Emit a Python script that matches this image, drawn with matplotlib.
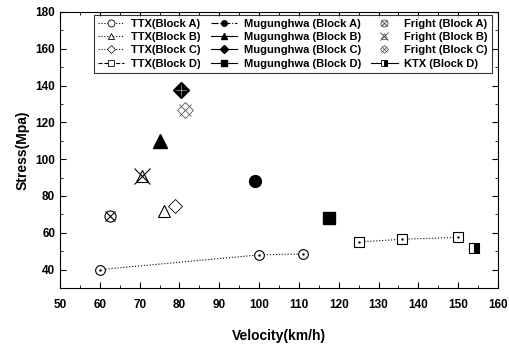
import matplotlib.pyplot as plt
from matplotlib.lines import Line2D
from matplotlib.ticker import MultipleLocator

plt.rcParams['font.family'] = ['Liberation Sans', 'DejaVu Sans']
plt.rcParams['font.weight'] = 'bold'

# values (velocity km/h, stress MPa)
ttx_a_v = [60, 100, 111]
ttx_a_s = [40, 48, 48.5]
ttx_b_v = [76]
ttx_b_s = [72]
ttx_c_v = [79]
ttx_c_s = [74.5]
ttx_d_v = [125, 136, 150]
ttx_d_s = [55, 56.5, 57.5]

mug_a_v = [99]
mug_a_s = [88]
mug_b_v = [75]
mug_b_s = [110]
mug_c_v = [80.5]
mug_c_s = [137.5]
mug_d_v = [117.5]
mug_d_s = [68]

fr_a_v = [62.5]
fr_a_s = [69]
fr_b_v = [70.5]
fr_b_s = [91]
fr_c_v = [81.5]
fr_c_s = [127]

ktx_d_v = [154]
ktx_d_s = [51.5]

labels = ['TTX(Block A)', 'TTX(Block B)', 'TTX(Block C)', 'TTX(Block D)',
          'Mugunghwa (Block A)', 'Mugunghwa (Block B)', 'Mugunghwa (Block C)', 'Mugunghwa (Block D)',
          'Fright (Block A)', 'Fright (Block B)', 'Fright (Block C)', 'KTX (Block D)']

fig = plt.figure(figsize=(5.1, 3.49), dpi=100)
ax = fig.add_axes([60 / 510, 61 / 349, 438 / 510, 276 / 349])

dot = dict(color='black', linestyle=':', linewidth=0.8)
ax.plot(ttx_a_v, ttx_a_s, marker='o', ms=7, mfc='white', mec='black', mew=0.8, **dot)
ax.plot(ttx_a_v, ttx_a_s, 'k.', ms=1.5)
ax.plot(ttx_b_v, ttx_b_s, marker='^', ms=9, mfc='white', mec='black', mew=0.8, ls='none')
ax.plot(ttx_c_v, ttx_c_s, marker='D', ms=7, mfc='white', mec='black', mew=0.6, ls='none')
ax.plot(ttx_d_v, ttx_d_s, marker='s', ms=7, mfc='white', mec='black', mew=0.8, **dot)
ax.plot(ttx_d_v, ttx_d_s, 'k.', ms=1.5)

ax.plot(mug_a_v, mug_a_s, 'ko', ms=8.5)
ax.plot(mug_b_v, mug_b_s, 'k^', ms=10)
ax.plot(mug_c_v, mug_c_s, 'kD', ms=8)
ax.plot(mug_c_v, mug_c_s, marker='+', color='#999999', ms=7, mew=0.6, ls='none')
ax.plot(mug_d_v, mug_d_s, 'ks', ms=8)

ax.plot(fr_a_v, fr_a_s, marker='o', ms=8, mfc='white', mec='black', mew=0.8, ls='none')
ax.plot(fr_a_v, fr_a_s, marker='x', ms=7, color='black', mew=0.8, ls='none')
ax.plot(fr_b_v, fr_b_s, marker='^', ms=9, mfc='none', mec='black', mew=0.8, ls='none')
ax.plot(fr_b_v, fr_b_s, marker='x', ms=11, color='black', mew=0.8, ls='none')
ax.plot(fr_c_v, fr_c_s, marker='D', ms=8, mfc='white', mec='#555555', mew=0.6, ls='none')
ax.plot(fr_c_v, fr_c_s, marker='x', ms=9, color='#555555', mew=0.6, ls='none')

ax.plot(ktx_d_v, ktx_d_s, marker='s', ms=7, fillstyle='right', mfc='black',
        mfcalt='white', mec='black', mew=0.8, ls='none')

ax.set_xlim(50, 160)
ax.set_ylim(30, 180)
ax.xaxis.set_major_locator(MultipleLocator(10))
ax.xaxis.set_minor_locator(MultipleLocator(5))
ax.yaxis.set_minor_locator(MultipleLocator(10))
ax.set_yticks([40, 60, 80, 100, 120, 140, 160, 180])
ax.tick_params(which='both', direction='in', top=True, right=True, labelsize=8.5)
ax.tick_params(axis='x', pad=8)
ax.tick_params(which='major', length=4)
ax.tick_params(which='minor', length=2)
for lab in ax.get_xticklabels() + ax.get_yticklabels():
    lab.set_fontweight('bold')
ax.set_xlabel('Velocity(km/h)', fontsize=10, fontweight='bold', labelpad=13)
ax.set_ylabel('Stress(Mpa)', fontsize=10, fontweight='bold', labelpad=4)

# legend proxies
g = '#444444'
handles = [
    Line2D([], [], marker='o', ms=5, mfc='white', mec='black', mew=0.6, **dot),
    Line2D([], [], marker='^', ms=5, mfc='white', mec='black', mew=0.6, **dot),
    Line2D([], [], marker='D', ms=4, mfc='white', mec='black', mew=0.5, **dot),
    Line2D([], [], marker='s', ms=4, mfc='white', mec='black', mew=0.6, color='black', ls='--', lw=0.8),
    Line2D([], [], marker='o', ms=4, color='black', ls='-.', lw=0.8),
    Line2D([], [], marker='^', ms=5, color='black', ls='-', lw=0.8),
    Line2D([], [], marker='D', ms=4, color='black', ls='-', lw=0.8),
    Line2D([], [], marker='s', ms=4, color='black', ls='-', lw=0.8),
    (Line2D([], [], marker='o', ms=5, mfc='white', mec=g, mew=0.6, ls='none'),
     Line2D([], [], marker='x', ms=4, color=g, mew=0.6, ls='none')),
    (Line2D([], [], marker='^', ms=5, mfc='none', mec=g, mew=0.5, ls='none'),
     Line2D([], [], marker='x', ms=6, color=g, mew=0.6, ls='none')),
    (Line2D([], [], marker='D', ms=4, mfc='white', mec=g, mew=0.5, ls='none'),
     Line2D([], [], marker='x', ms=5, color=g, mew=0.5, ls='none')),
    Line2D([], [], marker='s', ms=5, fillstyle='right', mfc='black', mfcalt='white',
           mec='black', mew=0.6, color='black', ls='-', lw=0.8),
]
leg = ax.legend(handles, labels, ncol=3, loc='upper right', bbox_to_anchor=(0.986, 0.99),
                fontsize=8, frameon=True, fancybox=False, edgecolor='black',
                handlelength=2.4, handletextpad=0.6, columnspacing=0.9,
                labelspacing=0.3, borderpad=0.35, borderaxespad=0.0)
leg.get_frame().set_linewidth(0.8)
for t in leg.get_texts():
    t.set_fontweight('bold')

fig.savefig('out.png', dpi=100)
